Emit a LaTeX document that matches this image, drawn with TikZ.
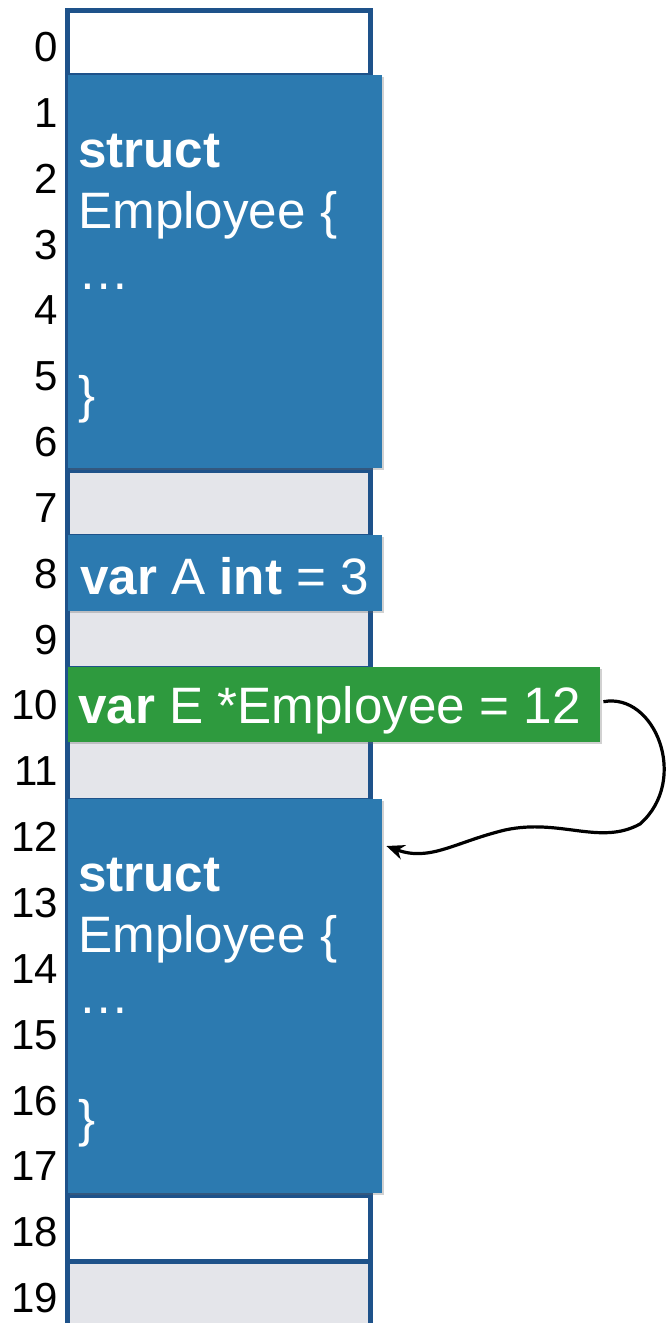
\documentclass[tikz,border=0pt]{standalone}
\usepackage{fontspec}
\setmainfont{Liberation Sans}
\usetikzlibrary{shadows,calc,arrows.meta}

\definecolor{framecol}{RGB}{30,82,138}
\definecolor{cellgrey}{RGB}{228,229,234}
\definecolor{structblue}{RGB}{44,122,176}
\definecolor{ptrgreen}{RGB}{46,154,62}

\tikzset{
  cell/.style={draw=framecol, line width=5pt},
  addr/.style={anchor=east, inner sep=0pt, font=\fontsize{42}{50}\selectfont},
  block/.style={anchor=north west, inner sep=0pt, draw=none,
    drop shadow={shadow xshift=2pt, shadow yshift=-2pt, opacity=0.3, fill=black!60}},
  bluebox/.style={block, fill=structblue},
  greenbox/.style={block, fill=ptrgreen},
  boxtext/.style={anchor=base west, inner sep=0pt, text=white,
    font=\fontsize{51.2}{61.3}\selectfont},
  ptr/.style={draw=black, line width=3.2pt, -{Stealth[length=18pt,width=15pt]}}
}

\begin{document}
\begin{tikzpicture}[x=1pt, y=-1pt]
\useasboundingbox (0,0) rectangle (671,1323);
\clip (0,0) rectangle (671,1323);

% memory cells, one per address
\foreach \i in {0,...,19} {
  \pgfmathsetmacro{\top}{10+65.85*\i}
  \pgfmathsetmacro{\bot}{10+65.85*(\i+1)}
  \ifnum\i=0 \def\cf{white}\else\ifnum\i=18 \def\cf{white}\else\def\cf{cellgrey}\fi\fi
  \path[cell, fill=\cf] (67,\top) rectangle (370,\bot);
  \pgfmathsetmacro{\mid}{47+65.85*\i}
  \node[addr] (addr\i) at (58,\mid) {\i};
}

% first struct
\node[bluebox, minimum width=314pt, minimum height=393pt] (S1) at (68,75) {};
\node[boxtext] (S1t) at (78,167) {\parbox[t]{300pt}{\raggedright
  \textbf{struct}\\Employee \{\\…\\\mbox{}\\\}}};

% integer variable
\node[bluebox, minimum width=314pt, minimum height=76pt] (A) at (68,535) {};
\node[boxtext] (At) at (80,594) {\textbf{var} A \textbf{int} = 3};

% pointer variable
\node[greenbox, minimum width=532pt, minimum height=75pt] (E) at (68,667) {};
\node[boxtext] (Et) at (78,723) {\textbf{var} E *Employee = 12};

% second struct
\node[bluebox, minimum width=314pt, minimum height=394pt] (S2) at (68,799) {};
\node[boxtext] (S2t) at (78,891) {\parbox[t]{300pt}{\raggedright
  \textbf{struct}\\Employee \{\\…\\\mbox{}\\\}}};

% pointer from E to the struct at address 12
\coordinate (tip) at ($(S2.north east)+(4,47)$);
\draw[ptr] ($(E.east)+(3,-3)$)
  .. controls (655,692) and (690,780) .. (640,824)
  .. controls (600,846) and (560,818) .. (505,830)
  .. controls (455,842) and (430,862) .. (tip);
\end{tikzpicture}
\end{document}
